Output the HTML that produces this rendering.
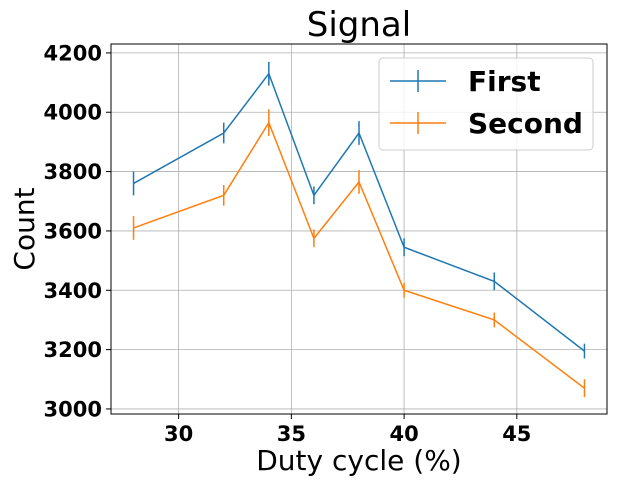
<!DOCTYPE html>
<html><head><meta charset="utf-8"><style>
body{margin:0;background:#fff;}
svg text{font-family:"DejaVu Sans","Liberation Sans",sans-serif;}
</style></head><body>
<svg id="chart" width="620" height="487">
<text x="359" y="36" style="font-size:34px" text-anchor="middle">Signal</text>
<g id="grid"></g>
<g id="series"></g>
<rect x="111" y="44" width="496" height="370" fill="none" stroke="#000" stroke-width="1"/>
<g id="ticks"></g>
<text x="359" y="470" style="font-size:28px" text-anchor="middle">Duty cycle (%)</text>
<text transform="translate(34,229) rotate(-90)" style="font-size:28px" text-anchor="middle">Count</text>
<g>
<rect x="379" y="58" width="214" height="92" rx="4" fill="#fff" fill-opacity="0.8" stroke="#ccc"/>
<g>
<line x1="390" y1="81" x2="446" y2="81" stroke="#1f77b4" stroke-width="1.5"/>
<line x1="418" y1="70" x2="418" y2="92" stroke="#1f77b4" stroke-width="1.5"/>
<text x="468" y="91" style="font-size:28px" font-weight="bold">First</text></g>
<g>
<line x1="390" y1="123" x2="446" y2="123" stroke="#ff7f0e" stroke-width="1.5"/>
<line x1="418" y1="112" x2="418" y2="134" stroke="#ff7f0e" stroke-width="1.5"/>
<text x="468" y="133" style="font-size:28px" font-weight="bold">Second</text></g>
</g>
</svg>
<script>
const xValues=[28,32,34,36,38,40,44,48];
const firstValues=[3760,3930,4130,3720,3930,3545,3430,3195];
const firstErrors=[40,35,40,30,40,30,30,25];
const secondValues=[3610,3720,3965,3575,3765,3400,3300,3070];
const secondErrors=[40,35,45,30,40,25,25,30];
const xTicks=[30,35,40,45];
const yTicks=[3000,3200,3400,3600,3800,4000,4200];
const NS="http://www.w3.org/2000/svg";
const L=111,R=607,T=44,B=414,xmin=27,xmax=49,ymin=2983,ymax=4230;
const sx=v=>L+(v-xmin)/(xmax-xmin)*(R-L);
const sy=v=>B-(v-ymin)/(ymax-ymin)*(B-T);
function mk(tag,attrs,parent){const e=document.createElementNS(NS,tag);for(const k in attrs)e.setAttribute(k,attrs[k]);parent.appendChild(e);return e;}
const grid=document.getElementById('grid'),ticks=document.getElementById('ticks'),ser=document.getElementById('series');
xTicks.forEach(t=>{const x=sx(t);
const g=mk('line',{x1:x,x2:x,y1:T,y2:B,stroke:'#b0b0b0','stroke-width':0.8},grid);


mk('line',{x1:x,x2:x,y1:B,y2:B+5,stroke:'#000'},ticks);
const tx=mk('text',{x:x,y:B+27,style:'font-size:21px','font-weight':'bold','text-anchor':'middle'},ticks);tx.textContent=t;

});
yTicks.forEach(t=>{const y=sy(t);
const g=mk('line',{x1:L,x2:R,y1:y,y2:y,stroke:'#b0b0b0','stroke-width':0.8},grid);


mk('line',{x1:L-5,x2:L,y1:y,y2:y,stroke:'#000'},ticks);
const tx=mk('text',{x:L-9,y:y+7.5,style:'font-size:21px','font-weight':'bold','text-anchor':'end'},ticks);tx.textContent=t;

});
function series(vals,errs,color,name){
const p=mk('polyline',{points:xValues.map((x,i)=>sx(x)+','+sy(vals[i])).join(' '),fill:'none',stroke:color,'stroke-width':1.5},ser);


xValues.forEach((x,i)=>{const e=mk('line',{x1:sx(x),x2:sx(x),y1:sy(vals[i]-errs[i]),y2:sy(vals[i]+errs[i]),stroke:color,'stroke-width':1.5},ser);

});}
series(firstValues,firstErrors,'#1f77b4','first');
series(secondValues,secondErrors,'#ff7f0e','second');
</script>
</body></html>
